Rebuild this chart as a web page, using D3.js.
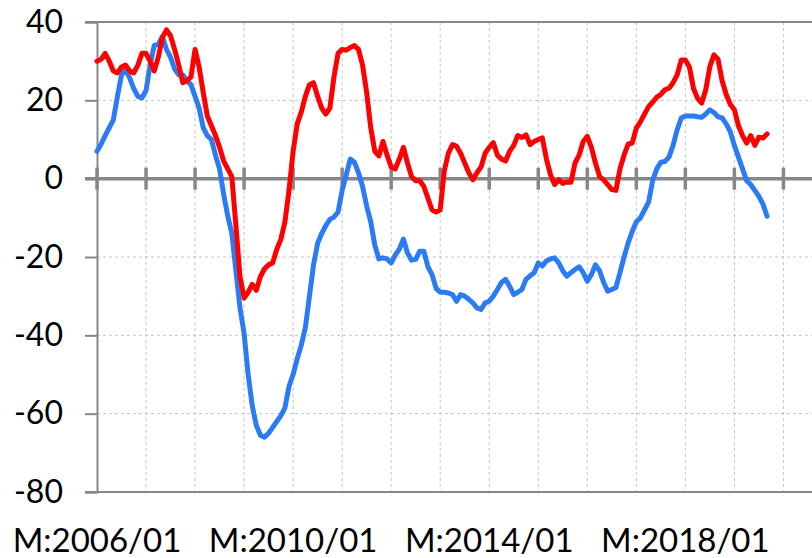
<!DOCTYPE html>
<html>
<head>
<meta charset="utf-8">
<script src="https://cdn.jsdelivr.net/npm/d3@7"></script>
<style>
  body { margin: 0; background: #fff; }
  svg text { font-family: Lato, "Open Sans", sans-serif; fill: #000; }
</style>
</head>
<body>
<div class="chart"></div>
<script>
// monthly values from M:2006/01 onward
var startYear = 2006;

var redSeries = [
    30, 30.5, 32, 30, 27.5, 27, 28.5, 29, 27.5, 27, 29, 32,
    32, 30, 27.5, 31, 36, 38, 36.5, 33, 29, 24.5, 25, 26,
    33, 28.5, 22, 16, 13.5, 11, 8, 4.5, 2.5, 0.5, -12, -25,
    -30.5, -29, -27, -28.5, -25, -23, -22, -21.5, -18, -15.5, -11, -3,
    7, 14, 17, 21, 24, 24.5, 21, 18, 16.5, 18, 26, 32,
    33, 32.8, 33.5, 34, 33, 29, 22, 13, 7, 5.8, 9.5, 6,
    3, 2.5, 5, 8, 4, 0.5, -0.5, -0.5, -2, -5, -8, -8.5,
    -8, 2, 6.5, 8.7, 8.3, 6.5, 4, 1.5, -0.3, 1.5, 3, 6.5,
    8, 9.2, 6, 5, 4.5, 7, 8.5, 11, 10.5, 11.2, 8.7, 9.5,
    10, 10.4, 5, 1, -1.5, -0.3, -1.2, -0.9, -0.9, 4, 6, 9.5,
    10.8, 8, 4, 0.6, -0.3, -1.5, -2.8, -3, 2.5, 6, 8.8, 9.1,
    12.9, 14.5, 16.5, 18.4, 19.5, 20.8, 21.5, 22.7, 23.1, 24.5, 26.5, 30.3,
    30.3, 28.5, 23, 20.5, 19.3, 22.7, 28.6, 31.6, 30.5, 25, 21.5, 19,
    17.6, 13.5, 11, 9.1, 11, 8.5, 10.6, 10.4, 11.4
];

var blueSeries = [
    7, 8.8, 11, 13, 15, 21, 26.5, 27.8, 25.7, 23, 21, 20.6,
    22.5, 29, 34, 34.3, 36.3, 33, 31, 28, 26.5, 26.5, 25, 24,
    21, 18, 13, 11, 10, 6, 2.5, -4, -9.5, -14, -23.5, -33,
    -39.5, -50, -58, -63, -65.5, -66, -65, -63.5, -62, -60.5, -58.5, -53,
    -50, -46, -42.5, -38, -30, -22, -16.5, -14, -12, -10.4, -9.8, -8.5,
    -3, 1, 5, 4.2, 1.5, -2, -7, -11, -17, -20.5, -20.2, -20.5,
    -21.5, -19.5, -18, -15.4, -19, -20.8, -20.6, -18.5, -18.5, -22.5, -24.5, -28,
    -29, -29, -29.2, -29.6, -31.3, -29.6, -30, -30.8, -31.7, -33, -33.4, -31.7,
    -31.3, -30, -28.3, -26.5, -25.7, -27.5, -29.6, -29, -28.3, -25.7, -24.8, -24,
    -21.5, -22.3, -21, -20.5, -20.2, -21.5, -23.5, -24.9, -24, -23.2, -22.5, -24,
    -26.2, -24.5, -22, -23.5, -26.5, -28.7, -28.3, -27.8, -24, -20, -16.4, -13.5,
    -11, -10, -8, -6, -0.5, 2.5, 4.2, 4.4, 5.5, 8.5, 12.5, 15.5,
    16, 16, 16, 15.8, 15.7, 16.5, 17.6, 16.9, 15.8, 15.5, 14, 12,
    8.5, 5.5, 2.5, -0.5, -1.5, -3, -4.5, -6.5, -9.6
];

var yTicks = [-80, -60, -40, -20, 0, 20, 40];
var xLabelMonths = [0, 48, 96, 144];
var xLabels = ["M:2006/01", "M:2010/01", "M:2014/01", "M:2018/01"];

var width = 812,
    height = 558,
    margin = {top: 22, right: 0, bottom: 66, left: 97};

var xScale = d3.scaleLinear()
    .domain([0, 175])
    .range([margin.left, width - margin.right]);

var yScale = d3.scaleLinear()
    .domain([-80, 40])
    .range([height - margin.bottom, margin.top]);

var svg = d3.select(".chart").append("svg")
    .attr("width", width)
    .attr("height", height);

var axisColor = "#878787",
    gridColor = "#c4c4c4";

// dashed grid
var yearMonths = d3.range(12, 175, 12);

svg.append("g")
    .selectAll("line")
    .data(yearMonths)
    .enter().append("line")
    .attr("x1", function(d) { return xScale(d); })
    .attr("x2", function(d) { return xScale(d); })
    .attr("y1", yScale(40))
    .attr("y2", yScale(-80))
    .attr("stroke", gridColor)
    .attr("stroke-width", 1)
    .attr("stroke-dasharray", "3,3");

svg.append("g")
    .selectAll("line")
    .data([20, -20, -40, -60])
    .enter().append("line")
    .attr("x1", xScale(0))
    .attr("x2", width)
    .attr("y1", function(d) { return yScale(d); })
    .attr("y2", function(d) { return yScale(d); })
    .attr("stroke", gridColor)
    .attr("stroke-width", 1)
    .attr("stroke-dasharray", "3,3");

// frame lines at 40 and -80
svg.append("g")
    .selectAll("line")
    .data([40, -80])
    .enter().append("line")
    .attr("x1", margin.left - 12)
    .attr("x2", width)
    .attr("y1", function(d) { return yScale(d); })
    .attr("y2", function(d) { return yScale(d); })
    .attr("stroke", axisColor)
    .attr("stroke-width", 2);

// left axis with ticks and labels
var yAxis = d3.axisLeft(yScale)
    .tickValues(yTicks)
    .tickSize(12)
    .tickPadding(22)
    .tickFormat(function(d) { return String(d); });

var yAxisG = svg.append("g")
    .attr("transform", "translate(" + margin.left + ",0)")
    .call(yAxis);

yAxisG.select(".domain")
    .attr("stroke", axisColor)
    .attr("stroke-width", 2);
yAxisG.selectAll(".tick line")
    .attr("stroke", axisColor)
    .attr("stroke-width", 2);
yAxisG.selectAll(".tick text")
    .attr("font-size", 32)
    .attr("font-family", "Lato, sans-serif")
    .attr("fill", "#000");

// zero line with year ticks
svg.append("line")
    .attr("x1", margin.left - 12)
    .attr("x2", width)
    .attr("y1", yScale(0))
    .attr("y2", yScale(0))
    .attr("stroke", axisColor)
    .attr("stroke-width", 3.5);

svg.append("g")
    .selectAll("line")
    .data([0].concat(yearMonths))
    .enter().append("line")
    .attr("x1", function(d) { return xScale(d); })
    .attr("x2", function(d) { return xScale(d); })
    .attr("y1", yScale(0) - 11)
    .attr("y2", yScale(0) + 11)
    .attr("stroke", axisColor)
    .attr("stroke-width", 3.5);

// x labels
svg.append("g")
    .selectAll("text")
    .data(xLabelMonths)
    .enter().append("text")
    .attr("x", function(d) { return xScale(d); })
    .attr("y", 552)
    .attr("text-anchor", "middle")
    .attr("font-size", 33)
    .text(function(d, i) { return xLabels[i]; });

// series lines
var line = d3.line()
    .x(function(d, i) { return xScale(i); })
    .y(function(d) { return yScale(d); });

svg.append("path")
    .datum(blueSeries)
    .attr("d", line)
    .attr("fill", "none")
    .attr("stroke", "#2b7cf4")
    .attr("stroke-width", 5)
    .attr("stroke-linejoin", "round")
    .attr("stroke-linecap", "round");

svg.append("path")
    .datum(redSeries)
    .attr("d", line)
    .attr("fill", "none")
    .attr("stroke", "#ff0000")
    .attr("stroke-width", 5)
    .attr("stroke-linejoin", "round")
    .attr("stroke-linecap", "round");
</script>
</body>
</html>
